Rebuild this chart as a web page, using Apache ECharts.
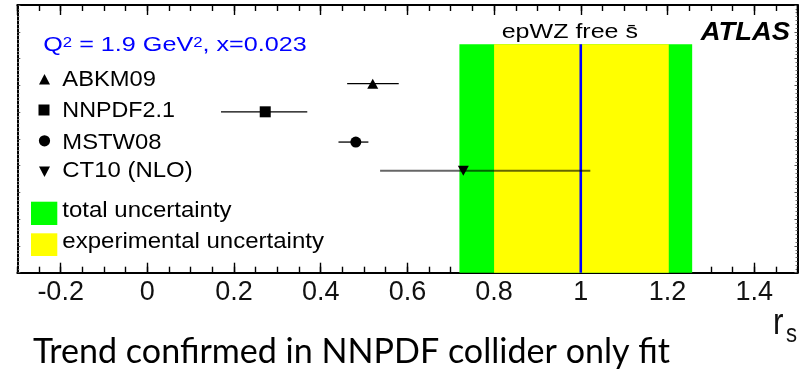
<!DOCTYPE html>
<html><head><meta charset="utf-8">
<script src="https://cdn.jsdelivr.net/npm/echarts@6/dist/echarts.min.js"></script>
<style>html,body{margin:0;padding:0;background:#fff}#c{width:806px;height:375px}</style>
</head><body><div id="c"></div>
<script>
// ---------- data ----------
const pdfNames   = ['ABKM09', 'NNPDF2.1', 'MSTW08', 'CT10 (NLO)'];
const pdfCentral = [0.520, 0.272, 0.481, 0.729];
const pdfLow     = [0.461, 0.170, 0.441, 0.537];
const pdfHigh    = [0.580, 0.369, 0.510, 1.022];
const pdfRow     = [7.06, 6.01, 4.88, 3.81];
const epwzCentral = 1.0;
const totalBand   = [0.720, 1.257];
const expBand     = [0.800, 1.203];
const bandTop     = 8.53;
const xTickLabels = [-0.2, 0, 0.2, 0.4, 0.6, 0.8, 1, 1.2, 1.4];
const bandNames   = ['total uncertainty', 'experimental uncertainty'];

// ---------- styling / layout ----------
const SANS = '"Liberation Sans", Arial, Helvetica, sans-serif';
const bandColors = ['#00ff00', '#ffff00'];
const symbols = ['triangle', 'rect', 'circle', 'triangle'];
const symRot  = [0, 0, 0, 180];
const symSize = [[11, 10], [11, 11], 11, [11, 10]];
const barColors = ['#000', '#000', '#000', 'rgba(0,0,0,0.6)'];
const barWidths = [1.3, 1.3, 1.3, 2];

const cv = document.createElement('canvas').getContext('2d');
function textW(t, font) { cv.font = font; return cv.measureText(t).width; }
function fitText(t, font, target) { return target / textW(t, font); }

const chart = echarts.init(document.getElementById('c'), null, {renderer: 'canvas'});

function xAxisCfg(pos, major) {
  const c = {
    type: 'value', min: -0.3, max: 1.5, position: pos, offset: 0,
    splitLine: {show: false},
    axisLine: {show: major, onZero: false, lineStyle: {color: '#000', width: 2}},
    axisTick: {show: true, inside: true, length: major ? 10 : 6, lineStyle: {color: '#000', width: 1.4}},
    axisLabel: {show: false}
  };
  if (major) { c.splitNumber = 9; } else { c.interval = 0.05; }
  if (major && pos === 'bottom') {
    c.axisLabel = {
      show: true, fontSize: 27, fontFamily: SANS, color: '#111', margin: 6,
      showMinLabel: false, showMaxLabel: false,
      formatter: v => xTickLabels.some(t => Math.abs(t - v) < 1e-6) ? String(+(+v).toFixed(2)) : ''
    };
  }
  return c;
}
function yAxisCfg(pos) {
  return {
    type: 'value', min: 0, max: 10, interval: 1, position: pos, offset: 0,
    splitLine: {show: false},
    axisLine: {show: true, onZero: false, lineStyle: {color: '#000', width: 2}},
    axisTick: {show: true, inside: true, length: 3, lineStyle: {color: '#555', width: 1}},
    minorTick: {show: true, splitNumber: 7, length: 2, lineStyle: {color: '#777', width: 1}},
    axisLabel: {show: false}
  };
}

const legFont = '22px ' + SANS;
const legendY = [79.7, 110.8, 142.8, 171];
const bandLegY = [211, 242];
const legTargets = [93.7, 112.7, 99.3, 130.3];
const bandTargets = [169.3, 261.7];

const graphics = [];
pdfNames.forEach((n, i) => {
  graphics.push({type: 'text', x: 62.3, y: legendY[i], scaleX: fitText(n, legFont, legTargets[i]),
    style: {text: n, font: legFont, fill: '#000', verticalAlign: 'middle', align: 'left'}});
});
bandNames.forEach((n, i) => {
  graphics.push({type: 'text', x: 62.3, y: bandLegY[i], scaleX: fitText(n, legFont, bandTargets[i]),
    style: {text: n, font: legFont, fill: '#000', verticalAlign: 'middle', align: 'left'}});
});
// legend markers
graphics.push({type: 'polygon', shape: {points: [[39, 84.5], [50, 84.5], [44.5, 74]]}, style: {fill: '#000'}});
graphics.push({type: 'rect', shape: {x: 38.5, y: 104.5, width: 11, height: 11}, style: {fill: '#000'}});
graphics.push({type: 'circle', shape: {cx: 44.5, cy: 140.8, r: 5.6}, style: {fill: '#000'}});
graphics.push({type: 'polygon', shape: {points: [[39, 166.5], [50, 166.5], [44.5, 177]]}, style: {fill: '#000'}});
graphics.push({type: 'rect', shape: {x: 31, y: 201.7, width: 26.3, height: 23.3}, style: {fill: bandColors[0]}});
graphics.push({type: 'rect', shape: {x: 31, y: 233.3, width: 26.3, height: 22.7}, style: {fill: bandColors[1]}});

// Q^2 line (with superscripts)
(function () {
  const base = '21px ' + SANS, sup = '14px ' + SANS;
  const segs = [['Q', base, 45.2], ['2', sup, 42.8], [' = 1.9 GeV', base, 45.2], ['2', sup, 42.8], [', x=0.023', base, 45.2]];
  let total = 0; segs.forEach(s => total += textW(s[0], s[1]));
  const sc = 263.4 / total;
  let x = 43.3;
  segs.forEach(s => {
    graphics.push({type: 'text', x: x, y: s[2], scaleX: sc,
      style: {text: s[0], font: s[1], fill: '#0000ff', verticalAlign: 'middle', align: 'left'}});
    x += textW(s[0], s[1]) * sc;
  });
})();
// epWZ free s-bar
(function () {
  const f = '21px ' + SANS, t = 'epWZ free s\u0304';
  graphics.push({type: 'text', x: 501.7, y: 32.5, scaleX: fitText('epWZ free s', f, 136.3),
    style: {text: t, font: f, fill: '#000', verticalAlign: 'middle', align: 'left'}});
})();
// ATLAS
(function () {
  const f = 'italic bold 26px ' + SANS;
  graphics.push({type: 'text', x: 700.7, y: 32.5, scaleX: fitText('ATLAS', f, 89.3),
    style: {text: 'ATLAS', font: f, fill: '#000', verticalAlign: 'middle', align: 'left'}});
})();
// axis title r_s
graphics.push({type: 'text', x: 773, y: 323.5, scaleX: 0.85,
  style: {text: 'r', font: '37px ' + SANS, fill: '#111', verticalAlign: 'middle', align: 'left'}});
graphics.push({type: 'text', x: 786, y: 335.3, scaleX: 0.85,
  style: {text: 's', font: '26px ' + SANS, fill: '#111', verticalAlign: 'middle', align: 'left'}});
// caption
(function () {
  const f = '35px Lato, "Open Sans", sans-serif', t = 'Trend confirmed in NNPDF collider only fit';
  graphics.push({type: 'text', x: 33, y: 352, scaleX: fitText(t, f, 637),
    style: {text: t, font: f, fill: '#000', verticalAlign: 'middle', align: 'left'}});
})();

const bandData = [[totalBand[0], totalBand[1], bandTop], [expBand[0], expBand[1], bandTop]];
const barData = pdfNames.map((n, i) => [pdfLow[i], pdfHigh[i], pdfRow[i]]);

chart.setOption({
  animation: false,
  backgroundColor: '#fff',
  grid: {left: 17.3, right: 8.5, top: 5, bottom: 102.3, containLabel: false},
  xAxis: [xAxisCfg('bottom', true), xAxisCfg('bottom', false), xAxisCfg('top', true), xAxisCfg('top', false)],
  yAxis: [yAxisCfg('left'), yAxisCfg('right')],
  series: [
    {
      type: 'custom', silent: true, xAxisIndex: 0, yAxisIndex: 0, z: 1,
      data: bandData, encode: {x: [0, 1], y: 2},
      renderItem: (params, api) => {
        const p0 = api.coord([api.value(0), 0]);
        const p1 = api.coord([api.value(1), api.value(2)]);
        return {type: 'rect', shape: {x: p0[0], y: p1[1], width: p1[0] - p0[0], height: p0[1] - p1[1]},
          style: {fill: bandColors[params.dataIndex]}};
      }
    },
    {
      type: 'line', silent: true, xAxisIndex: 0, yAxisIndex: 0, z: 2, symbol: 'none',
      data: [[epwzCentral, 0], [epwzCentral, bandTop]],
      lineStyle: {color: '#0000ff', width: 2.6}
    },
    {
      type: 'custom', silent: true, xAxisIndex: 0, yAxisIndex: 0, z: 3,
      data: barData, encode: {x: [0, 1], y: 2},
      renderItem: (params, api) => {
        const a = api.coord([api.value(0), api.value(2)]);
        const b = api.coord([api.value(1), api.value(2)]);
        return {type: 'line', shape: {x1: a[0], y1: a[1], x2: b[0], y2: b[1]},
          style: {stroke: barColors[params.dataIndex], lineWidth: barWidths[params.dataIndex]}};
      }
    },
    {
      type: 'scatter', silent: true, xAxisIndex: 0, yAxisIndex: 0, z: 4,
      itemStyle: {color: '#000', opacity: 1},
      data: pdfNames.map((n, i) => ({name: n, value: [pdfCentral[i], pdfRow[i]],
        symbol: symbols[i], symbolSize: symSize[i], symbolRotate: symRot[i]}))
    }
  ],
  graphic: graphics
});
</script>
</body></html>
